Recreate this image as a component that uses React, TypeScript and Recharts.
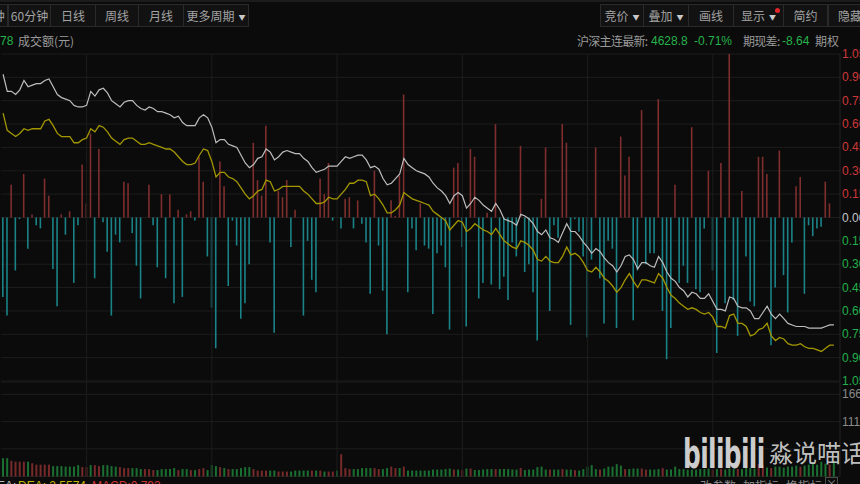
import { ComposedChart, BarChart, Bar, Line, XAxis, YAxis, CartesianGrid, ReferenceLine, Cell } from 'recharts'

// 主力资金 net flow per bar (red = inflow, teal = outflow)
const flow = [
  -0.51, -0.63, 0.21, -0.34, -0.01, 0.28, -0.2, 0.02, -0.05, -0.07,
  0.25, 0.14, -0.33, -0.57, 0.02, -0.11, 0.04, -0.42, -0.05, 0.34,
  0.09, 0.54, -0.39, 0.44, -0.03, -0.22, -0.63, -0.11, -0.16, 0.23,
  0.22, -0.1, -0.31, -0.52, 0, 0.21, -0.05, -0.32, 0.15, -0.39,
  0.15, -0.55, 0.05, -0.51, 0.02, 0.04, -0.02, 0.39, 0.23, -0.25,
  -0.58, -0.84, 0.36, 0.2, -0.44, -0.02, -0.18, -0.65, -0.55, -0.3,
  0.48, 0.24, 0.14, 0.59, -0.16, -0.74, 0.17, 0.13, 0.24, -0.19,
  0.05, 0, -0.63, -0.15, -0.4, -0.48, 0.25, 0.15, 0.35, -0.02,
  0, -0.07, 0.12, 0.13, -0.07, 0.11, -0.04, -0.16, -0.49, 0.3,
  -0.18, -0.47, -0.75, 0.11, 0.01, 0.27, 0.79, -0.48, -0.07, -0.21,
  0.09, -0.18, -0.2, -0.62, -0.23, -0.18, -0.32, -0.72, 0.32, 0.35,
  -0.19, -0.7, 0.44, 0.39, -0.52, -0.42, 0.03, -0.43, 0.6, -0.46,
  -0.38, -0.53, -0.16, -0.25, 0.46, -0.35, -0.3, -0.48, -0.79, 0.12,
  0.45, -0.6, -0.05, -0.13, 0.6, 0.48, -0.69, -0.01, -0.09, -0.25,
  -0.77, -0.27, 0.45, -0.39, -0.68, -0.15, -0.2, -0.71, 0.52, 0.27,
  0.39, -0.66, -0.34, 0.69, -0.3, -0.23, -0.23, 0.76, -0.6, -0.91,
  -0.71, 0.21, -0.42, -0.31, -0.42, 0.58, -0.46, -0.48, -0.07, 0.3,
  -0.34, -0.87, 0.35, -0.55, 1.05, -0.53, -0.76, 0.17, -0.25, -0.54,
  -0.57, 0.39, 0.39, 0.28, -0.82, -0.45, 0.43, -0.37, -0.61, -0.16,
  0.2, 0.26, -0.49, -0.05, -0.12, -0.07, -0.06, 0.23, 0.09, 0,
]

// white line (price, same scale)
const whiteLine = [
  0.92, 0.81, 0.81, 0.79, 0.82, 0.88, 0.84, 0.85, 0.86, 0.86,
  0.88, 0.89, 0.84, 0.79, 0.77, 0.76, 0.75, 0.72, 0.71, 0.71,
  0.72, 0.81, 0.78, 0.82, 0.83, 0.8, 0.75, 0.73, 0.71, 0.74,
  0.75, 0.75, 0.72, 0.7, 0.69, 0.71, 0.7, 0.68, 0.68, 0.67,
  0.66, 0.64, 0.65, 0.61, 0.59, 0.59, 0.59, 0.64, 0.66, 0.64,
  0.58, 0.48, 0.5, 0.5, 0.47, 0.46, 0.45, 0.4, 0.35, 0.32,
  0.34, 0.38, 0.39, 0.44, 0.42, 0.37, 0.39, 0.42, 0.43, 0.42,
  0.41, 0.41, 0.38, 0.36, 0.32, 0.29, 0.3, 0.31, 0.33, 0.33,
  0.33, 0.36, 0.39, 0.38, 0.39, 0.4, 0.4, 0.37, 0.32, 0.33,
  0.31, 0.25, 0.21, 0.22, 0.25, 0.28, 0.38, 0.34, 0.32, 0.3,
  0.29, 0.28, 0.26, 0.22, 0.19, 0.17, 0.14, 0.09, 0.14, 0.16,
  0.14, 0.06, 0.09, 0.13, 0.11, 0.08, 0.06, 0.04, 0.09, 0.05,
  -0.01, -0.02, -0.03, -0.05, 0.02, 0.01, -0.01, -0.04, -0.09, -0.11,
  -0.08, -0.13, -0.14, -0.16, -0.1, -0.04, -0.09, -0.09, -0.12, -0.16,
  -0.19, -0.23, -0.2, -0.22, -0.26, -0.29, -0.31, -0.35, -0.31, -0.25,
  -0.24, -0.27, -0.33, -0.29, -0.29, -0.31, -0.32, -0.25, -0.29, -0.35,
  -0.39, -0.41, -0.45, -0.47, -0.51, -0.48, -0.49, -0.52, -0.52, -0.49,
  -0.54, -0.59, -0.59, -0.6, -0.51, -0.52, -0.57, -0.58, -0.58, -0.6,
  -0.65, -0.65, -0.61, -0.57, -0.62, -0.65, -0.62, -0.65, -0.68, -0.69,
  -0.7, -0.7, -0.7, -0.71, -0.71, -0.71, -0.71, -0.7, -0.69, -0.69,
]

// yellow line (average)
const yellowLine = [
  0.67, 0.56, 0.54, 0.52, 0.54, 0.57, 0.56, 0.57, 0.57, 0.57,
  0.62, 0.63, 0.59, 0.54, 0.52, 0.52, 0.52, 0.48, 0.48, 0.5,
  0.51, 0.57, 0.55, 0.59, 0.58, 0.55, 0.51, 0.49, 0.47, 0.5,
  0.51, 0.51, 0.49, 0.47, 0.47, 0.48, 0.47, 0.46, 0.45, 0.44,
  0.44, 0.42, 0.39, 0.36, 0.34, 0.34, 0.35, 0.4, 0.44, 0.43,
  0.36, 0.26, 0.29, 0.29, 0.26, 0.25, 0.23, 0.19, 0.15, 0.12,
  0.14, 0.17, 0.18, 0.24, 0.23, 0.17, 0.18, 0.2, 0.2, 0.2,
  0.2, 0.2, 0.17, 0.15, 0.12, 0.09, 0.09, 0.1, 0.13, 0.12,
  0.12, 0.15, 0.18, 0.22, 0.22, 0.24, 0.24, 0.23, 0.14, 0.15,
  0.12, 0.08, 0.03, 0.03, 0.05, 0.08, 0.16, 0.14, 0.12, 0.11,
  0.1, 0.09, 0.08, 0.04, 0.02, 0, -0.02, -0.08, -0.05, -0.02,
  -0.03, -0.09, -0.07, -0.04, -0.06, -0.08, -0.09, -0.11, -0.07, -0.11,
  -0.15, -0.17, -0.19, -0.2, -0.15, -0.16, -0.18, -0.21, -0.27, -0.28,
  -0.25, -0.28, -0.29, -0.29, -0.25, -0.19, -0.24, -0.23, -0.25, -0.29,
  -0.34, -0.35, -0.32, -0.35, -0.39, -0.41, -0.44, -0.48, -0.45, -0.4,
  -0.36, -0.41, -0.45, -0.4, -0.4, -0.41, -0.42, -0.36, -0.39, -0.45,
  -0.5, -0.52, -0.55, -0.57, -0.59, -0.58, -0.59, -0.61, -0.62, -0.61,
  -0.64, -0.7, -0.7, -0.71, -0.63, -0.62, -0.68, -0.68, -0.7, -0.76,
  -0.75, -0.72, -0.71, -0.68, -0.76, -0.79, -0.77, -0.78, -0.81, -0.82,
  -0.82, -0.81, -0.83, -0.84, -0.84, -0.85, -0.86, -0.84, -0.82, -0.82,
]

// lower pane histogram
const volume = [
  37, 37, 32, 30, 30, 30, 30, 27, 24, 24,
  24, 24, 21, 21, 21, 20, 20, 20, 23, 19,
  19, 23, 23, 21, 23, 23, 21, 20, 19, 17,
  17, 17, 17, 15, 15, 15, 13, 13, 15, 15,
  15, 17, 13, 15, 15, 13, 13, 15, 17, 13,
  23, 21, 19, 17, 15, 15, 15, 17, 19, 19,
  15, 12, 12, 12, 12, 12, 10, 10, 10, 10,
  12, 12, 12, 12, 12, 12, 12, 10, 10, 10,
  12, 45, 17, 15, 15, 15, 17, 17, 17, 17,
  15, 15, 17, 20, 17, 17, 20, 12, 12, 12,
  12, 12, 12, 14, 14, 14, 15, 16, 14, 14,
  13, 16, 16, 13, 13, 14, 15, 15, 15, 15,
  15, 15, 14, 14, 17, 13, 14, 14, 19, 20,
  14, 14, 14, 14, 15, 14, 14, 13, 12, 15,
  20, 23, 15, 14, 16, 20, 20, 25, 22, 15,
  15, 16, 16, 16, 14, 14, 14, 15, 17, 14,
  14, 20, 15, 15, 14, 14, 14, 15, 15, 16,
  14, 15, 15, 14, 16, 15, 15, 15, 17, 17,
  16, 25, 22, 18, 17, 20, 20, 18, 20, 20,
  22, 20, 22, 24, 27, 24, 30, 26, 24, 32,
]
const volumeSide = (
  'GGRRRRGRRR' + 'RRGGGGGGGR' + 'RGRRGGGGRR' + 'RGGGRRRGGG' + 'GGRGGRGRRG' +
  'GGRGRGGGGG' + 'RRRRGGRRRG' + 'GGGGRGRGRR' + 'GRRRGGGGGR' + 'RGGRRGRGGG' +
  'GGG' + 'GGGGGRGRGR' + 'GGGGGRGGGG' + 'GRGGGGGGRG' + 'GRGGRGGGGG' +
  'RGGGGGRGGG' + 'RRGGGRGGGG' + 'GGGGGGGRGR' + 'GGGRGGGGRR' + 'GRGGGGGGRG' + 'GGGGGRG'
).split('')

const MAIN_TICKS = [1.05, 0.9, 0.75, 0.6, 0.45, 0.3, 0.15, 0, -0.15, -0.3, -0.45, -0.6, -0.75, -0.9, -1.05]
const VOL_TICKS = [56, 111, 166]
const GRID_SLOTS = [20, 50, 80, 110, 140, 170]

const mainRows = flow.map((v, i) => ({ i, flow: v, white: whiteLine[i], yellow: yellowLine[i] }))
const volRows = volume.map((v, i) => ({ i, vol: v, side: volumeSide[i] }))

const FONT = "'Noto Sans CJK SC', 'Liberation Sans', sans-serif"
const NUM_FONT = "'Liberation Sans', Arial, sans-serif"
const GRID = '#1d1d1d'
const GRAY = '#9a9a9a'
const GREEN = '#26b24a'

function MainTick({ x, y, payload }: any) {
  const v = payload.value
  const fill = v > 0 ? '#cf3838' : v < 0 ? '#23b04a' : '#c4c4c4'
  return (
    <text x={x} y={y} dy={4} fill={fill} fontSize={12} fontFamily={NUM_FONT} textAnchor="start">
      {Math.abs(v).toFixed(2)}
    </text>
  )
}

function VolTick({ x, y, payload }: any) {
  if (payload.value === 56) return null
  return (
    <text x={x} y={y} dy={4} fill="#8a8a8a" fontSize={12} fontFamily={NUM_FONT} textAnchor="start">
      {payload.value}
    </text>
  )
}

function Btn({ left, width, label, caret, dot }: any) {
  return (
    <div style={{
      position: 'absolute', left, top: 4, width, height: 23, boxSizing: 'border-box',
      border: '1px solid #2a2a2a', background: '#121212', color: '#a3a3a3',
      fontSize: 12, lineHeight: '21px', textAlign: 'center', whiteSpace: 'nowrap',
    }}>
      {label}
      {caret && <span style={{ fontSize: 7, marginLeft: 4, color: '#c8c8c8', verticalAlign: 1 }}>▼</span>}
      {dot && <span style={{ position: 'absolute', right: 3, top: 3, width: 5, height: 5, borderRadius: 3, background: '#e0262b' }} />}
    </div>
  )
}

// one text run of the info rows, placed at its own x
function Txt({ left, top, color, children, num, tight }: any) {
  return (
    <span style={{
      position: 'absolute', left, top, color, fontSize: 12, lineHeight: '16px', whiteSpace: 'nowrap',
      fontFamily: num ? NUM_FONT : FONT, letterSpacing: tight ? -0.7 : 0,
    }}>{children}</span>
  )
}

export default function App() {
  return (
    <div style={{
      position: 'fixed', left: 0, top: 0, width: 860, height: 484, overflow: 'hidden',
      background: '#0b0b0b', fontFamily: FONT,
    }}>
      <div style={{ position: 'absolute', left: 0, top: 0, width: 860, height: 2, background: '#1c1c1c' }} />

      {/* period toolbar */}
      <Btn left={-36} width={44} label="30分钟" />
      <Btn left={8} width={43} label="60分钟" />
      <Btn left={50} width={46} label="日线" />
      <Btn left={95} width={44} label="周线" />
      <Btn left={138} width={46} label="月线" />
      <Btn left={183} width={66} label="更多周期" caret />

      <Btn left={600} width={44} label="竞价" caret />
      <Btn left={643} width={46} label="叠加" caret />
      <Btn left={688} width={46} label="画线" />
      <Btn left={733} width={51} label="显示" caret dot />
      <Btn left={783} width={45} label="简约" />
      <Btn left={828} width={44} label="隐藏" />

      {/* info row */}
      <Txt left={0} top={33} color={GREEN} num>78</Txt>
      <Txt left={18} top={33} color={GRAY}>成交额(元)</Txt>
      <Txt left={577} top={33} color={GRAY} tight>沪深主连最新:</Txt>
      <Txt left={651} top={33} color={GREEN} num>4628.8</Txt>
      <Txt left={694} top={33} color={GREEN} num>-0.71%</Txt>
      <Txt left={743} top={33} color={GRAY} tight>期现差:</Txt>
      <Txt left={782} top={33} color={GREEN} num>-8.64</Txt>
      <Txt left={815} top={33} color={GRAY}>期权</Txt>

      {/* main pane */}
      <div style={{ position: 'absolute', left: 0, top: 44 }}>
        <ComposedChart width={860} height={347} data={mainRows} margin={{ top: 10, right: 0, bottom: 10, left: 1 }}>
          <CartesianGrid vertical={false} stroke={GRID} />
          <XAxis dataKey="i" type="category" hide height={0} padding={{ left: 0, right: 4 }} />
          <YAxis
            orientation="right" width={20} domain={[-1.05, 1.05]} ticks={MAIN_TICKS}
            tick={<MainTick />} tickLine={false} tickSize={0} tickMargin={2}
            axisLine={{ stroke: '#242424' }} interval={0}
          />
          {GRID_SLOTS.map((s) => <ReferenceLine key={s} x={s} stroke={GRID} />)}
          <Bar dataKey="flow" barSize={1.6} isAnimationActive={false}>
            {mainRows.map((r) => <Cell key={r.i} fill={r.flow >= 0 ? '#7f2e2e' : '#1a8388'} />)}
          </Bar>
          <Line type="linear" dataKey="white" stroke="#bdbdbd" strokeWidth={1.2} dot={false} isAnimationActive={false} />
          <Line type="linear" dataKey="yellow" stroke="#a39700" strokeWidth={1.3} dot={false} isAnimationActive={false} />
        </ComposedChart>
      </div>

      {/* lower pane */}
      <div style={{ position: 'absolute', left: 0, top: 372 }}>
        <BarChart width={860} height={113} data={volRows} margin={{ top: 10, right: 0, bottom: 8.5, left: 1 }}>
          <CartesianGrid vertical={false} stroke={GRID} />
          <XAxis dataKey="i" type="category" hide height={0} padding={{ left: 0, right: 4 }} />
          <YAxis
            orientation="right" width={20} domain={[0, 191]} ticks={VOL_TICKS}
            tick={<VolTick />} tickLine={false} tickSize={0} tickMargin={2}
            axisLine={{ stroke: '#242424' }} interval={0}
          />
          {GRID_SLOTS.map((s) => <ReferenceLine key={s} x={s} stroke={GRID} />)}
          <Bar dataKey="vol" barSize={2} isAnimationActive={false}>
            {volRows.map((r) => <Cell key={r.i} fill={r.side === 'R' ? '#762a2a' : '#1b6f31'} />)}
          </Bar>
        </BarChart>
      </div>

      {/* indicator legend (cut at the bottom edge) */}
      <Txt left={-3} top={478} color="#b8b8b8" num>EA:</Txt>
      <Txt left={18} top={478} color="#c4b300" num>DEA: 2.5574</Txt>
      <Txt left={92} top={478} color="#cc3434" num>MACD:0.793</Txt>
      <Txt left={700} top={478} color="#8a8a8a">改参数</Txt>
      <Txt left={743} top={478} color="#8a8a8a">加指标</Txt>
      <Txt left={786} top={478} color="#8a8a8a">换指标</Txt>
      <div style={{
        position: 'absolute', left: 825, top: 477, width: 13, height: 13, boxSizing: 'border-box',
        border: '1px solid #4a4a4a', color: '#8a8a8a', fontSize: 11, lineHeight: '11px', textAlign: 'center',
      }}>×</div>

      {/* watermark */}
      <div style={{
        position: 'absolute', left: 683, top: 431, fontSize: 40, fontWeight: 700, letterSpacing: -1,
        color: 'rgba(232,232,232,0.9)', fontFamily: "'DejaVu Sans'", transform: 'scaleX(0.62)',
        transformOrigin: 'left top', whiteSpace: 'nowrap',
      }}>bilibili</div>
      <div style={{
        position: 'absolute', left: 769, top: 437, fontSize: 24, lineHeight: '30px',
        color: 'rgba(215,215,215,0.9)', whiteSpace: 'nowrap',
      }}>淼说喵话</div>
    </div>
  )
}
